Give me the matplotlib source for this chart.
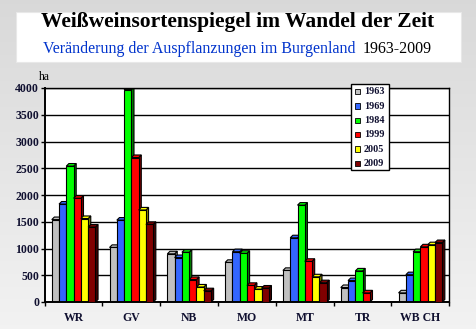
import numpy as np
import matplotlib
matplotlib.use("Agg")
import matplotlib.pyplot as plt
from matplotlib.patches import Rectangle, Polygon

# Vineyard area (ha) of white grape varieties in Burgenland
categories = ["WR", "GV", "NB", "MO", "MT", "TR", "WB CH"]
years = ["1963", "1969", "1984", "1999", "2005", "2009"]
area_1963 = [1540, 1020, 900, 740, 590, 270, 170]
area_1969 = [1830, 1530, 830, 940, 1200, 400, 510]
area_1984 = [2540, 3970, 930, 910, 1810, 580, 940]
area_1999 = [1940, 2700, 420, 310, 760, 170, 1030]
area_2005 = [1560, 1720, 280, 240, 470, 0, 1070]
area_2009 = [1400, 1450, 210, 260, 360, 0, 1110]
series = [area_1963, area_1969, area_1984, area_1999, area_2005, area_2009]

front_colors = ["#c0c0c0", "#3366ff", "#00ff00", "#ff0000", "#ffff00", "#800000"]
side_colors = ["#808080", "#1a3399", "#008000", "#800000", "#808000", "#400000"]

W, H = 477, 329
fig = plt.figure(figsize=(W / 100, H / 100), dpi=100)


def fx(px):
    return px / W


def fy(py):
    return 1 - py / H


# soft grey gradient background
bg = fig.add_axes([0, 0, 1, 1], zorder=-10)
grad = np.linspace(0.85, 0.95, 256).reshape(-1, 1)
bg.imshow(np.dstack([grad, grad, grad]), aspect="auto", extent=[0, 1, 0, 1],
          origin="upper")
bg.set_axis_off()

# title panel
fig.patches.append(Rectangle((fx(16), fy(62)), fx(461) - fx(16), fy(12) - fy(62),
                             transform=fig.transFigure, facecolor="white",
                             edgecolor="#e8e8e8", lw=0.8, zorder=1))
fig.text(fx(238), fy(22), "Weißweinsortenspiegel im Wandel der Zeit",
         family="Liberation Serif", weight="bold", fontsize=15.5,
         ha="center", va="center", zorder=2)
fig.text(fx(43), fy(49), "Veränderung der Auspflanzungen im Burgenland",
         family="Liberation Serif", fontsize=11.5, color="#0033cc",
         ha="left", va="center", zorder=2)
fig.text(fx(432), fy(49), "1963-2009",
         family="Liberation Serif", fontsize=11.5, color="black",
         ha="right", va="center", zorder=2)

ax = fig.add_axes([fx(44.7), fy(302), fx(449.3) - fx(44.7), fy(88) - fy(302)])
ax.set_facecolor("white")
ax.set_xlim(-0.5, len(categories) - 0.5)
ax.set_ylim(0, 4000)

# horizontal grid
for g in range(500, 4001, 500):
    ax.axhline(g, color="black", lw=1.0, zorder=1)

# floor strip
ax.add_patch(Rectangle((-0.5, 0), len(categories), 28, facecolor="#b0b0b0",
                       edgecolor="#404040", lw=0.6, zorder=1.5))

bw = 0.126
dx = 0.045
dy = 48
x = np.arange(len(categories))
for i, vals in enumerate(series):
    for xc, v in zip(x, vals):
        if v <= 0:
            continue
        x0 = xc + (i - 2.5) * bw - bw / 2
        x1 = x0 + bw
        z = 2 + i * 0.1
        ax.add_patch(Polygon([(x1, 0), (x1 + dx, dy), (x1 + dx, v + dy), (x1, v)],
                             closed=True, facecolor=side_colors[i],
                             edgecolor="black", lw=0.8, zorder=z))
        ax.add_patch(Polygon([(x0, v), (x0 + dx, v + dy), (x1 + dx, v + dy), (x1, v)],
                             closed=True, facecolor=front_colors[i],
                             edgecolor="black", lw=0.8, zorder=z))
        ax.add_patch(Rectangle((x0, 0), bw, v, facecolor=front_colors[i],
                               edgecolor="black", lw=0.8, zorder=z + 0.05))

for s in ax.spines.values():
    s.set_color("black")
    s.set_linewidth(1.0)
ax.spines["left"].set_linewidth(1.4)
ax.spines["bottom"].set_linewidth(1.4)

tick_font = dict(family="Liberation Serif", weight="bold", size=8.5)
ax.set_yticks(range(0, 4001, 500))
ax.set_yticklabels([str(t) for t in range(0, 4001, 500)], color="#101030", **tick_font)
ax.tick_params(axis="y", direction="out", length=3, width=1, pad=1)
ax.set_xticks(np.arange(-0.5, len(categories), 1.0))
ax.set_xticklabels([])
ax.set_xticks(x, minor=True)
ax.set_xticklabels(categories, minor=True, color="#101030", **tick_font)
ax.tick_params(axis="x", which="major", direction="out", length=3, width=1)
ax.tick_params(axis="x", which="minor", length=0, pad=7)

fig.text(fx(39), fy(77), "ha", family="Liberation Serif", fontsize=8.5,
         ha="left", va="center")

# legend
fig.patches.append(Rectangle((fx(351), fy(170)), fx(388.7) - fx(351), fy(84) - fy(170),
                             transform=fig.transFigure, facecolor="white",
                             edgecolor="black", lw=1.0, zorder=5))
for k, (yr, col) in enumerate(zip(years, front_colors)):
    cy = 91.7 + k * 14.4
    fig.patches.append(Rectangle((fx(355), fy(cy + 2.5)), fx(5.5), 5.5 / H,
                                 transform=fig.transFigure, facecolor=col,
                                 edgecolor="black", lw=0.6, zorder=6))
    fig.text(fx(364), fy(cy), yr, family="Liberation Serif", weight="bold",
             fontsize=7.3, color="#101030", ha="left", va="center", zorder=6)

fig.savefig("out.png", dpi=100)
